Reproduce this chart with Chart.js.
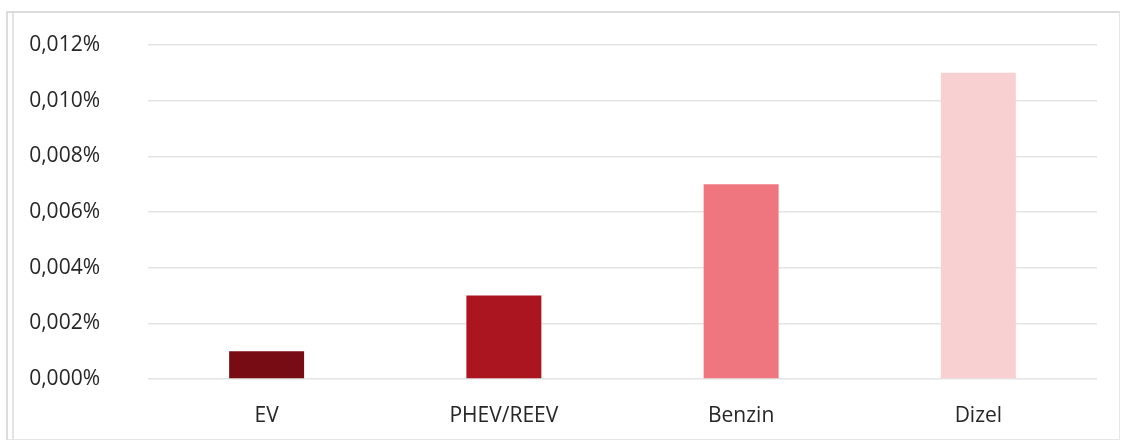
<!DOCTYPE html>
<html>
<head>
<meta charset="utf-8">
<script src="https://cdn.jsdelivr.net/npm/chart.js@4/dist/chart.umd.min.js"></script>
<style>
html,body{margin:0;padding:0;background:#fff;}
#wrap{position:relative;width:1123px;height:442px;}
#frame{position:absolute;left:6px;top:11px;width:1114px;height:429px;border:2px solid #dcdcdc;border-right:1px solid #e6e6e6;border-bottom:1px solid #e6e6e6;box-sizing:border-box;}
#inner{position:absolute;left:12px;top:13px;width:2px;height:427px;background:#e4e4e4;}
canvas{position:absolute;left:0;top:0;}
</style>
</head>
<body>
<div id="wrap">
<div id="frame"></div>
<div id="inner"></div>
<canvas id="c" width="1123" height="442"></canvas>
</div>
<script>
const categories = ["EV", "PHEV/REEV", "Benzin", "Dizel"];
const values = [0.001, 0.003, 0.007, 0.011];
const barColors = ["#780c14", "#ab1520", "#ef767f", "#f9d0d2"];
const yTicks = [0, 0.002, 0.004, 0.006, 0.008, 0.010, 0.012];

const ctx = document.getElementById('c');
new Chart(ctx, {
  type: 'bar',
  data: {
    labels: categories,
    datasets: [{
      data: values,
      backgroundColor: barColors,
      borderWidth: 0,
      barPercentage: 0.316,
      categoryPercentage: 1
    }]
  },
  options: {
    responsive: false,
    animation: false,
    devicePixelRatio: 1,
    layout: { padding: { left: 28, right: 26, top: 45, bottom: 0 } },
    plugins: { legend: { display: false }, tooltip: { enabled: false } },
    scales: {
      x: {
        grid: { display: false, drawTicks: false },
        border: { display: false },
        afterFit: (axis) => { axis.height = 442 - 379; },
        ticks: { color: '#262626', font: { family: 'Open Sans', size: 21 }, padding: 24 }
      },
      y: {
        min: 0, max: 0.012,
        afterBuildTicks: (axis) => { axis.ticks = yTicks.map(v => ({ value: v })); },
        afterFit: (axis) => { axis.width = 148 - 28; axis.paddingTop = 0; axis.paddingBottom = 0; },
        grid: { color: '#e4e4e4', lineWidth: 1.5, drawTicks: false },
        border: { display: false },
        ticks: {
          color: '#262626',
          font: { family: 'Open Sans', size: 21 },
          padding: 48,
          callback: (v) => v.toFixed(3).replace('.', ',') + '%'
        }
      }
    }
  }
});
</script>
</body>
</html>
